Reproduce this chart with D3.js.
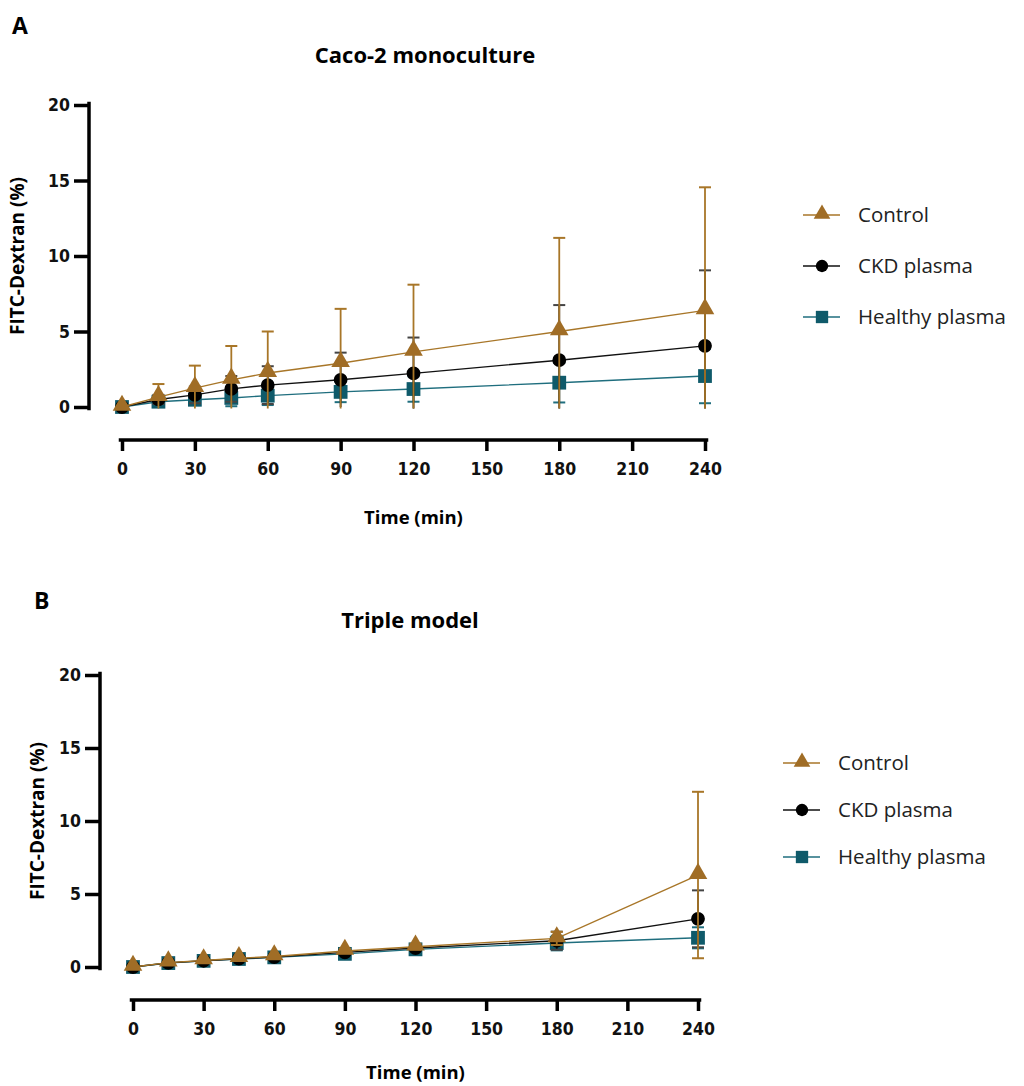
<!DOCTYPE html>
<html>
<head>
<meta charset="utf-8">
<script src="https://cdn.jsdelivr.net/npm/d3@7/dist/d3.min.js"></script>
<style>
  body { margin: 0; background: #fff; }
  svg { display: block; }
  .num { font-family: "DejaVu Sans Condensed", "Liberation Sans Narrow", "DejaVu Sans", sans-serif; font-weight: bold; }
  .lab { font-family: "Open Sans", "Noto Sans", sans-serif; }
</style>
</head>
<body>
<svg id="chart" width="1024" height="1086"></svg>
<script>
// shared values
const times = [0, 15, 30, 45, 60, 90, 120, 180, 240];
const seriesNames = ['Control', 'CKD plasma', 'Healthy plasma'];
const xTicks = [0, 30, 60, 90, 120, 150, 180, 210, 240];
const yTicks = [0, 5, 10, 15, 20];

// panel A - Caco-2 monoculture (mean, SD)
const caco2Control   = [0, 0.65, 1.25, 1.8, 2.25, 2.9, 3.65, 5.0, 6.4];
const caco2ControlSd = [0, 0.87, 1.49, 2.24, 2.75, 3.6, 4.45, 6.2, 8.15];
const caco2Ckd       = [0, 0.5, 0.8, 1.2, 1.45, 1.8, 2.23, 3.1, 4.05];
const caco2CkdSd     = [0, 0.3, 0.55, 0.85, 1.25, 1.8, 2.37, 3.65, 5.0];
const caco2Healthy   = [0, 0.35, 0.48, 0.6, 0.75, 1.0, 1.19, 1.61, 2.05];
const caco2HealthySd = [0, 0.2, 0.35, 0.55, 0.62, 0.68, 0.84, 1.31, 1.8];

// panel B - Triple model (mean, SD)
const tripleControl   = [0, 0.3, 0.45, 0.6, 0.72, 1.1, 1.39, 1.96, 6.3];
const tripleControlSd = [0, 0.05, 0.08, 0.1, 0.1, 0.15, 0.2, 0.45, 5.7];
const tripleCkd       = [0, 0.28, 0.43, 0.57, 0.68, 1.0, 1.3, 1.8, 3.3];
const tripleCkdSd     = [0, 0.05, 0.08, 0.1, 0.1, 0.12, 0.18, 0.62, 1.95];
const tripleHealthy   = [0, 0.27, 0.42, 0.55, 0.66, 0.9, 1.21, 1.64, 2.0];
const tripleHealthySd = [0, 0.05, 0.08, 0.1, 0.1, 0.12, 0.15, 0.5, 0.72];

const colors = ['#a06d26', '#000000', '#0f5a6a'];
const lineColors = ['#a87628', '#111111', '#1f6e7e'];
const shapes = [d3.symbolTriangle, d3.symbolCircle, d3.symbolSquare];
const sizes = [150, 150, 190];

var svg = d3.select('#chart');

function drawPanel(p) {
  var x = d3.scaleLinear().domain([0, 240]).range([p.x0, p.x1]);
  var y = d3.scaleLinear().domain([0, 20]).range([p.y0, p.y1]);
  var g = svg.append('g');

  // letter + title
  g.append('text').attr('x', p.letterX).attr('y', p.letterY)
    .attr('class', 'lab').style('font-size', '23px').style('font-weight', 'bold')
    .text(p.letter);
  g.append('text').attr('x', p.titleX).attr('y', p.titleY)
    .attr('class', 'lab').attr('text-anchor', 'middle')
    .style('font-size', '22px').style('font-weight', 'bold')
    .text(p.title);

  // y axis
  var yAxis = g.append('g').attr('transform', 'translate(' + p.yAxisX + ',0)')
    .call(d3.axisLeft(y).tickValues(yTicks).tickSize(15).tickPadding(4).tickSizeOuter(0));
  // x axis, offset below
  var xAxis = g.append('g').attr('transform', 'translate(0,' + p.xAxisY + ')')
    .call(d3.axisBottom(x).tickValues(xTicks).tickSize(11).tickPadding(12).tickSizeOuter(0));

  [yAxis, xAxis].forEach(function(a) {
    a.select('.domain').attr('stroke', '#000').attr('stroke-width', 3.5)
      .attr('stroke-linecap', 'square');
    a.selectAll('.tick line').attr('stroke', '#000').attr('stroke-width', 3.5);
    a.selectAll('.tick text').attr('class', 'num').style('font-size', '17.5px').attr('fill', '#111');
  });
  // redraw domains without end ticks
  yAxis.select('.domain').attr('d', 'M0,' + (p.y0 + 1.5) + 'V' + (p.y1 - 1.5));
  xAxis.select('.domain').attr('d', 'M' + (p.x0 - 1.5) + ',0H' + (p.x1 + 1.5));

  g.append('text').attr('class', 'lab')
    .attr('transform', 'translate(' + p.yLabelX + ',' + ((p.y0 + p.y1) / 2) + ') rotate(-90)')
    .attr('text-anchor', 'middle').style('font-size', '19px').style('font-weight', 'bold')
    .text('FITC-Dextran (%)');
  g.append('text').attr('class', 'lab')
    .attr('x', (p.x0 + p.x1) / 2).attr('y', p.xLabelY)
    .attr('text-anchor', 'middle').style('font-size', '18.5px').style('font-weight', 'bold')
    .text('Time (min)');

  // clip so error bars stop at zero
  var clipId = 'clip' + p.letter;
  svg.append('clipPath').attr('id', clipId).append('rect')
    .attr('x', p.x0 - 20).attr('y', p.y1 - 20)
    .attr('width', p.x1 - p.x0 + 40).attr('height', p.y0 - p.y1 + 30);

  var plot = g.append('g').attr('clip-path', 'url(#' + clipId + ')');
  var line = d3.line().x(function(d) { return x(d.t); }).y(function(d) { return y(d.v); });

  // draw Healthy first, Control last (on top)
  [2, 1, 0].forEach(function(s) {
    var pts = times.map(function(t, i) {
      return { t: t, v: p.means[s][i], sd: p.sds[s][i] };
    });
    var sg = plot.append('g');
    var bars = sg.selectAll('g.err').data(pts.filter(function(d) { return d.sd > 0.1; }))
      .enter().append('g').attr('class', 'err');
    bars.append('line')
      .attr('x1', function(d) { return x(d.t); }).attr('x2', function(d) { return x(d.t); })
      .attr('y1', function(d) { return y(d.v + d.sd); })
      .attr('y2', function(d) { return y(Math.max(d.v - d.sd, -0.1)); })
      .attr('stroke', lineColors[s]).attr('stroke-width', 1.8);
    bars.append('line')
      .attr('x1', function(d) { return x(d.t) - 6; }).attr('x2', function(d) { return x(d.t) + 6; })
      .attr('y1', function(d) { return y(d.v + d.sd); }).attr('y2', function(d) { return y(d.v + d.sd); })
      .attr('stroke', s === 1 ? '#444' : lineColors[s]).attr('stroke-width', 2);
    bars.filter(function(d) { return d.v - d.sd > 0; }).append('line')
      .attr('x1', function(d) { return x(d.t) - 6; }).attr('x2', function(d) { return x(d.t) + 6; })
      .attr('y1', function(d) { return y(d.v - d.sd); }).attr('y2', function(d) { return y(d.v - d.sd); })
      .attr('stroke', s === 1 ? '#444' : lineColors[s]).attr('stroke-width', 2);

    sg.append('path').datum(pts).attr('d', line)
      .attr('fill', 'none').attr('stroke', lineColors[s]).attr('stroke-width', 1.4);

    sg.selectAll('path.mk').data(pts).enter().append('path').attr('class', 'mk')
      .attr('d', d3.symbol().type(shapes[s]).size(sizes[s]))
      .attr('transform', function(d) {
        return 'translate(' + x(d.t) + ',' + (y(d.v) + (s === 0 ? -1.5 : 0)) + ')';
      })
      .attr('fill', colors[s]);
  });

  // legend
  var leg = g.append('g');
  seriesNames.forEach(function(name, i) {
    var ly = p.legY + i * p.legGap;
    leg.append('line').attr('x1', p.legX).attr('x2', p.legX + 37)
      .attr('y1', ly).attr('y2', ly).attr('stroke', lineColors[i]).attr('stroke-width', 1.6);
    leg.append('path').attr('d', d3.symbol().type(shapes[i]).size(sizes[i] * 0.8))
      .attr('transform', 'translate(' + (p.legX + 19) + ',' + (ly + (i === 0 ? -1 : 0)) + ')')
      .attr('fill', colors[i]);
    leg.append('text').attr('class', 'lab').attr('x', p.legX + 55).attr('y', ly)
      .attr('dy', '0.35em').style('font-size', '20.5px').attr('fill', '#222')
      .text(name);
  });
}

drawPanel({
  letter: 'A', letterX: 12, letterY: 34, title: 'Caco-2 monoculture', titleX: 425, titleY: 63,
  x0: 122, x1: 705, y0: 407, y1: 105, yAxisX: 89, xAxisY: 440,
  yLabelX: 24, xLabelY: 524,
  legX: 803, legY: 215, legGap: 51,
  means: [caco2Control, caco2Ckd, caco2Healthy],
  sds: [caco2ControlSd, caco2CkdSd, caco2HealthySd]
});

drawPanel({
  letter: 'B', letterX: 34, letterY: 609, title: 'Triple model', titleX: 410, titleY: 628,
  x0: 133, x1: 698, y0: 967, y1: 675, yAxisX: 100, xAxisY: 1000,
  yLabelX: 44, xLabelY: 1079,
  legX: 783, legY: 763, legGap: 47,
  means: [tripleControl, tripleCkd, tripleHealthy],
  sds: [tripleControlSd, tripleCkdSd, tripleHealthySd]
});
</script>
</body>
</html>
